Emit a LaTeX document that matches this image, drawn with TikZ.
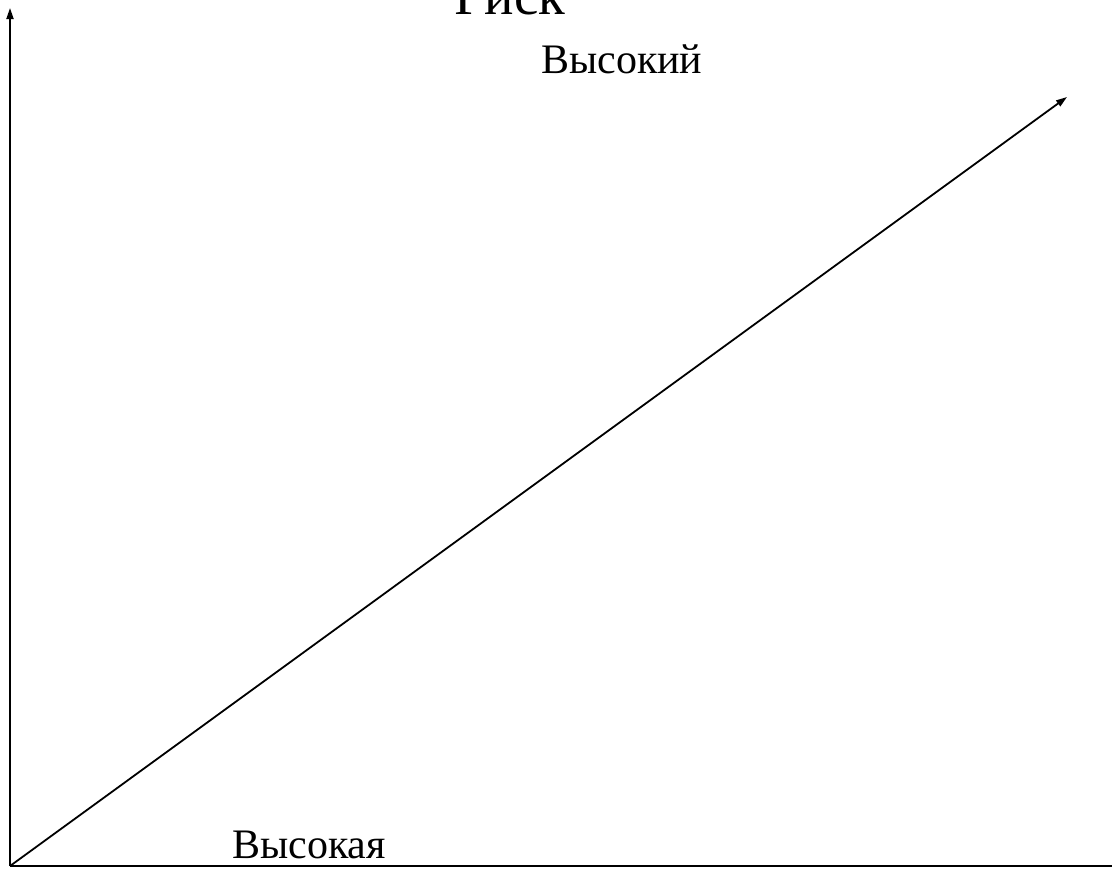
\documentclass[tikz,border=0pt]{standalone}
\usepackage{fontspec}
\setmainfont{Liberation Serif}
\usetikzlibrary{arrows.meta}
\begin{document}
\begin{tikzpicture}[x=1pt,y=-1pt,
  axis/.style={line width=1.8pt,-{Triangle[length=11pt,width=7pt]}},
  plain/.style={line width=1.8pt},
  lbl/.style={inner sep=0pt,anchor=base west,font=\fontsize{42}{48}\selectfont},
  title/.style={inner sep=0pt,anchor=base west,font=\fontsize{55}{62}\selectfont}]
\useasboundingbox (0,0) rectangle (1112,870);
\coordinate (O) at (10,866);
\coordinate (Ytop) at (10,8);
\coordinate (Xend) at (1112,866);
\coordinate (Dend) at (1067,97);
\draw[axis] (O) -- (Ytop);
\draw[plain] (O) -- (Xend);
\draw[axis] (O) -- (Dend);
\node[title] (risk) at (454,15) {Риск};
\node[lbl] (high1) at (541,73) {Высокий};
\node[lbl] (high2) at (232,858) {Высокая};
\end{tikzpicture}
\end{document}
